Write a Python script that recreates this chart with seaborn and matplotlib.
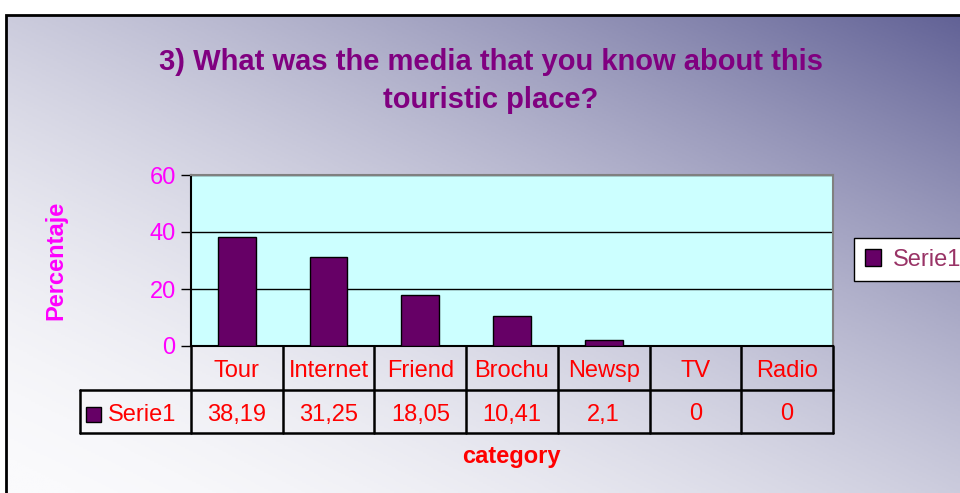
import numpy as np
import pandas as pd
import matplotlib
matplotlib.use("Agg")
import matplotlib.pyplot as plt
import matplotlib.transforms as mtransforms
from matplotlib.lines import Line2D
from matplotlib.patches import Patch, Rectangle
from matplotlib.colors import LinearSegmentedColormap
import seaborn as sns

categories = ["Tour", "Internet", "Friend", "Brochu", "Newsp", "TV", "Radio"]
values = [38.19, 31.25, 18.05, 10.41, 2.1, 0, 0]
series_name = "Serie1"
title_text = "3) What was the media that you know about this\ntouristic place?"
y_label = "Percentaje"
x_label = "category"
y_ticks = [0, 20, 40, 60]

sns.set_theme(style="white")
plt.rcParams['font.family'] = ['Liberation Sans', 'DejaVu Sans']

W, H = 960, 493
fig = plt.figure(figsize=(W / 100, H / 100), dpi=100)

# background gradient
bg = fig.add_axes([0, 0, 1, 1], zorder=-10)
bg.set_xlim(0, 1)
bg.set_ylim(0, 1)
bg.axis("off")
nx, ny = 480, 250
xx, yy = np.meshgrid(np.linspace(0, 1, nx), np.linspace(0, 1, ny))
t = ((xx + yy) / 2) ** 1.7
cmap = LinearSegmentedColormap.from_list("g", ["#fafafc", "#626296"])
x0 = 6 / W
y1 = 1 - 15 / H
bg.imshow(t, cmap=cmap, origin="lower", extent=[x0, 1.0, 0, y1], aspect="auto", vmin=0, vmax=1)
bg.add_patch(Rectangle((x0, -0.01), 1.02 - x0, y1 + 0.01, fill=False, edgecolor="black", lw=2))

# main axes
ax = fig.add_axes([191 / W, 1 - 346 / H, 642 / W, 171 / H])
ax.set_facecolor("#CCFFFF")
df = pd.DataFrame({"category": categories, "value": values})
sns.barplot(data=df, x="category", y="value", color="#660066", edgecolor="black",
            linewidth=1, width=0.41, saturation=1, ax=ax, zorder=3)
ax.set_xlim(-0.5, len(categories) - 0.5)
ax.set_ylim(0, 60)
ax.set_yticks(y_ticks)
ax.set_xticks([])
ax.set_xlabel("")
ax.set_ylabel("")
for y in y_ticks[1:]:
    ax.axhline(y, color="black", lw=1, zorder=1)
ax.tick_params(axis="y", colors="black", labelcolor="#FF00FF", labelsize=17,
               length=7, width=1, direction="out", left=True, pad=4)
for s in ["top", "right"]:
    ax.spines[s].set_color("#808080")
    ax.spines[s].set_linewidth(1.5)
for s in ["left", "bottom"]:
    ax.spines[s].set_color("black")
    ax.spines[s].set_linewidth(1.5)

# data table
tr = mtransforms.blended_transform_factory(ax.transData, ax.transAxes)
r1, r2 = -44 / 171, -87 / 171
n = len(categories)
left_ax = (80 - 191) / 642
left_data = -0.5 + left_ax * n
lc = dict(color="black", lw=1.8, transform=tr, clip_on=False)
for i in range(n + 1):
    ax.add_line(Line2D([-0.5 + i, -0.5 + i], [0, r2], **lc))
ax.add_line(Line2D([left_data, n - 0.5], [r1, r1], **lc))
ax.add_line(Line2D([left_data, n - 0.5], [r2, r2], **lc))
ax.add_line(Line2D([left_data, left_data], [r1, r2], **lc))
off = -3 / 171
for i, (c, v) in enumerate(zip(categories, values)):
    ax.text(i, r1 / 2 + off, c, transform=tr, ha="center", va="center", color="#FF0000", fontsize=17)
    ax.text(i, (r1 + r2) / 2 + off, f"{v:g}".replace(".", ","), transform=tr, ha="center",
            va="center", color="#FF0000", fontsize=17)
# legend key in table
fig.add_artist(Rectangle((86 / W, 1 - 422 / H), 15 / W, 15 / H, facecolor="#660066",
                         edgecolor="black", lw=1, transform=fig.transFigure))
fig.text(108 / W, 1 - 415 / H, series_name, color="#FF0000", fontsize=17, ha="left", va="center")

# title and labels
fig.text(491 / W, 1 - 81 / H, title_text, ha="center", va="center", color="#800080",
         fontsize=21, fontweight="bold", linespacing=1.45)
fig.text(511 / W, 1 - 457 / H, x_label, ha="center", va="center", color="#FF0000",
         fontsize=17, fontweight="bold")
fig.text(56 / W, 1 - 260 / H, y_label, ha="center", va="center", color="#FF00FF",
         fontsize=17, fontweight="bold", rotation=90)

# legend
fig.legend(handles=[Patch(facecolor="#660066", edgecolor="black", label=series_name)],
           loc="upper left", bbox_to_anchor=(854 / W, 1 - 238 / H), frameon=True,
           fancybox=False, edgecolor="black", facecolor="white", framealpha=1,
           fontsize=17, handlelength=0.7, handleheight=0.7, handletextpad=0.5,
           borderpad=0.45, borderaxespad=0, labelcolor="#993366")

fig.savefig("out.png", dpi=100)
